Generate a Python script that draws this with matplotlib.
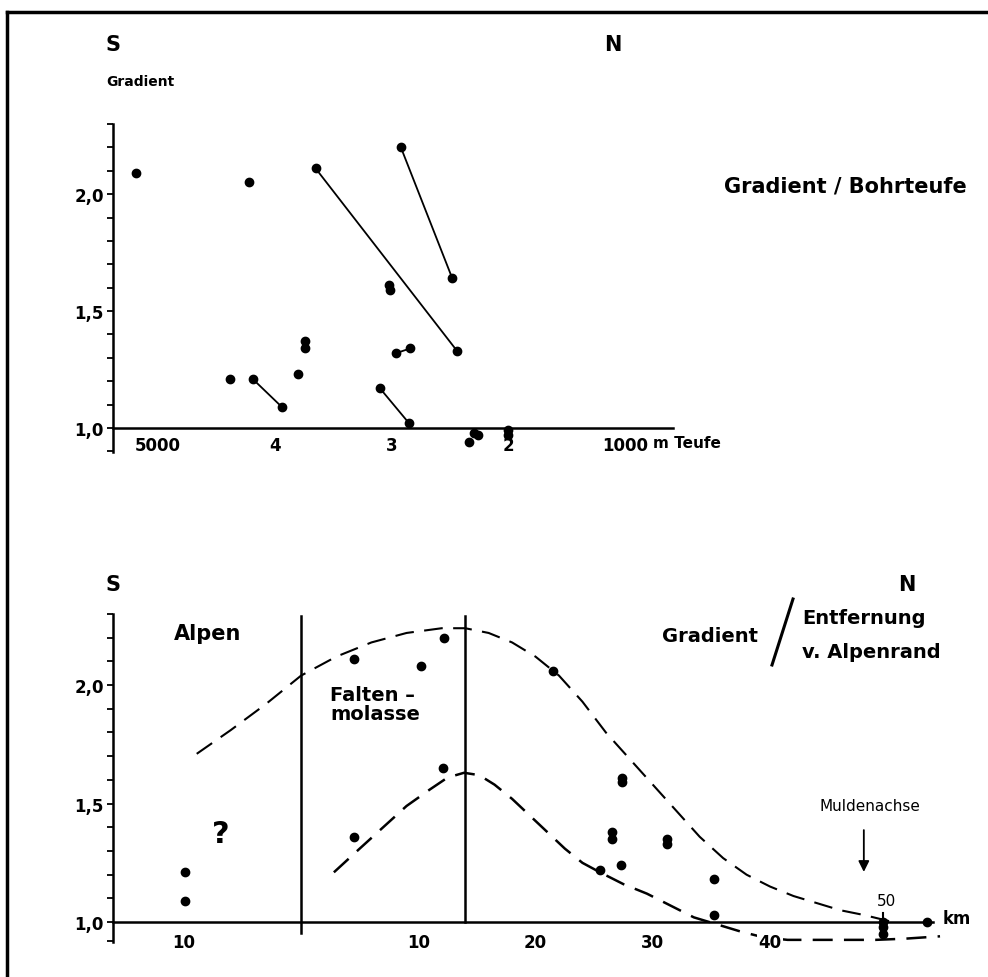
import matplotlib
matplotlib.use("Agg")
import matplotlib.pyplot as plt
from matplotlib.lines import Line2D

plt.rcParams['font.family'] = ['DejaVu Sans']
plt.rcParams['font.weight'] = 'bold'

# ---- top panel: gradient vs. drilling depth (m) ----
single_depth = [5190, 4220, 3020, 3010, 3740, 3740, 4380, 3800, 2340, 2290, 2260, 2000, 2000]
single_grad = [2.09, 2.05, 1.61, 1.59, 1.37, 1.34, 1.21, 1.23, 0.94, 0.98, 0.97, 0.99, 0.97]
pair_depth = [(3650, 2440), (2920, 2480), (4190, 3940), (2960, 2840), (3100, 2850)]
pair_grad = [(2.11, 1.33), (2.20, 1.64), (1.21, 1.09), (1.32, 1.34), (1.17, 1.02)]
depth_ticks = [5000, 4000, 3000, 2000, 1000]
depth_labels = ["5000", "4", "3", "2", "1000"]

# ---- bottom panel: gradient vs. distance from the Alpine border (km) ----
dist_km = [-9.9, -9.9, 4.5, 10.2, 12.2, 12.1, 4.5, 21.5, 27.4, 27.4, 26.5, 26.5,
           31.2, 31.2, 27.3, 25.5, 35.2, 35.2, 49.6, 49.6, 49.6, 53.4]
dist_grad = [1.21, 1.09, 2.11, 2.08, 2.20, 1.65, 1.36, 2.06, 1.61, 1.59, 1.38, 1.35,
             1.35, 1.33, 1.24, 1.22, 1.18, 1.03, 1.00, 0.98, 0.95, 1.00]
upper_km = [-8.9, -6, -3, 0, 3, 6, 9, 12, 14, 16, 18, 20, 22, 24, 26, 28, 30, 32,
            34, 36, 38, 40, 42, 44, 46, 48, 50.5]
upper_grad = [1.71, 1.81, 1.92, 2.04, 2.12, 2.18, 2.22, 2.24, 2.24, 2.22, 2.18, 2.12,
              2.04, 1.93, 1.80, 1.69, 1.58, 1.47, 1.36, 1.27, 1.20, 1.15, 1.11, 1.08,
              1.05, 1.03, 1.00]
lower_km = [2.8, 5, 7, 9, 11, 12.5, 13.9, 15.2, 16.5, 18, 19.5, 21, 22.5, 24, 25.5,
            27.5, 29.5, 31.5, 33.5, 35.5, 37.5, 39.5, 41.5, 49.0, 51.5, 54.5]
lower_grad = [1.21, 1.31, 1.40, 1.49, 1.56, 1.61, 1.63, 1.62, 1.58, 1.52, 1.45, 1.38,
              1.31, 1.25, 1.21, 1.16, 1.12, 1.07, 1.02, 0.99, 0.96, 0.935, 0.925,
              0.925, 0.93, 0.94]
zone_lines = [0, 14]
km_ticks = [-10, 10, 20, 30, 40]
km_labels = ["10", "10", "20", "30", "40"]

grad_ticks = [1.0, 1.5, 2.0]
grad_labels = ["1,0", "1,5", "2,0"]

W, H = 988, 978


def fx(px):
    return px / W


def fy(py):
    return 1 - py / H


fig = plt.figure(figsize=(W / 100, H / 100), dpi=100)

# frame (left + top edge of the scanned page)
fig.add_artist(Line2D([fx(7), fx(7)], [fy(13), 0], lw=2.5, color='k', transform=fig.transFigure))
fig.add_artist(Line2D([fx(7), 1], [fy(13), fy(13)], lw=2.5, color='k', transform=fig.transFigure))


def style_axis(ax, ymin_tick):
    for s in ['top', 'right']:
        ax.spines[s].set_visible(False)
    ax.spines['bottom'].set_position(('data', 1.0))
    ax.spines['bottom'].set_linewidth(1.8)
    ax.spines['left'].set_linewidth(1.8)
    ax.set_yticks(grad_ticks)
    ax.set_yticklabels(grad_labels, fontsize=12)
    minor = [ymin_tick] + [round(1.1 + 0.1 * i, 1) for i in range(13)]
    ax.set_yticks(minor, minor=True)
    ax.tick_params(axis='y', which='both', direction='out', length=4.5, width=1.3, pad=2)
    ax.set_axisbelow(False)


# ===== top panel =====
ax1 = fig.add_axes([fx(113), fy(453), (673 - 113) / W, (453 - 125) / H])
ax1.set_xlim(5385, 590)
ax1.set_ylim(0.897, 2.30)
style_axis(ax1, 0.9)
ax1.set_xticks(depth_ticks)
ax1.set_xticklabels(depth_labels, fontsize=12)
ax1.tick_params(axis='x', length=0, pad=6)

ax1.plot(single_depth, single_grad, 'o', color='k', ms=6, clip_on=False)
for d, g in zip(pair_depth, pair_grad):
    ax1.plot(d, g, '-o', color='k', lw=1.3, ms=6, clip_on=False)

fig.text(fx(653), fy(443), "m Teufe", fontsize=11, ha='left', va='center')
fig.text(fx(113), fy(45), "S", fontsize=15, ha='center', va='center')
fig.text(fx(613), fy(45), "N", fontsize=15, ha='center', va='center')
fig.text(fx(140), fy(82), "Gradient", fontsize=10, ha='center', va='center')
fig.text(fx(845), fy(186), "Gradient / Bohrteufe", fontsize=15, ha='center', va='center')

# ===== bottom panel =====
ax2 = fig.add_axes([fx(113), fy(943), (933 - 113) / W, (943 - 615) / H])
ax2.set_xlim(-16.04, 53.9)
ax2.set_ylim(0.916, 2.30)
style_axis(ax2, 0.92)
ax2.set_xticks(km_ticks)
ax2.set_xticklabels(km_labels, fontsize=12)
ax2.tick_params(axis='x', length=0, pad=8)
ax2.get_xticklabels()[-1].set_bbox(dict(facecolor='white', edgecolor='none', pad=1))

for z in zone_lines:
    ax2.plot([z, z], [0.955 if z == 0 else 1.0, 2.29], color='k', lw=1.8)
ax2.plot([49.6, 49.6], [0.97, 1.04], color='k', lw=1.5)

ax2.plot(upper_km, upper_grad, color='k', lw=1.5, dashes=(9, 5), clip_on=False)
ax2.plot(lower_km, lower_grad, color='k', lw=1.8, dashes=(8, 4.5), clip_on=False)
ax2.plot(dist_km, dist_grad, 'o', color='k', ms=6, clip_on=False)

ax2.annotate('', xy=(48.0, 1.20), xytext=(48.0, 1.40),
             arrowprops=dict(arrowstyle='-|>', color='k', lw=1.3, mutation_scale=16))

fig.text(fx(113), fy(585), "S", fontsize=15, ha='center', va='center')
fig.text(fx(907), fy(585), "N", fontsize=15, ha='center', va='center')
fig.text(fx(208), fy(634), "Alpen", fontsize=15, ha='center', va='center')
fig.text(fx(330), fy(705), "Falten \u2013\nmolasse", fontsize=14, ha='left', va='center',
         linespacing=1.0)
fig.text(fx(221), fy(835), "?", fontsize=22, ha='center', va='center')
fig.text(fx(710), fy(636), "Gradient", fontsize=14, ha='center', va='center')
fig.add_artist(Line2D([fx(793), fx(772)], [fy(600), fy(666)], lw=2.2, color='k',
                      transform=fig.transFigure))
fig.text(fx(802), fy(618), "Entfernung", fontsize=14, ha='left', va='center')
fig.text(fx(802), fy(653), "v. Alpenrand", fontsize=14, ha='left', va='center')
fig.text(fx(870), fy(807), "Muldenachse", fontsize=11, ha='center', va='center',
         fontweight='normal')
fig.text(fx(886), fy(901), "50", fontsize=11, ha='center', va='center', fontweight='normal')
fig.text(fx(943), fy(919), "km", fontsize=12, ha='left', va='center')

fig.savefig("out.png", dpi=100, facecolor='white')
